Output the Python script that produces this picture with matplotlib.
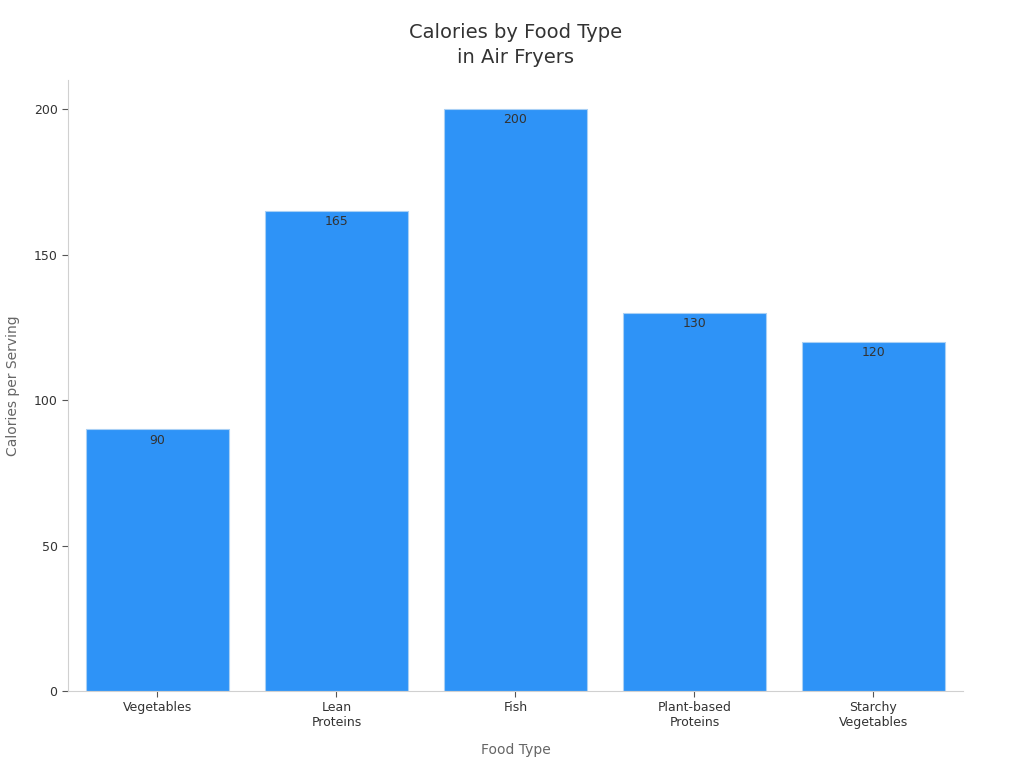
import matplotlib
matplotlib.use("Agg")
import matplotlib.pyplot as plt

categories = ["Vegetables", "Lean\nProteins", "Fish", "Plant-based\nProteins", "Starchy\nVegetables"]
calories = [90, 165, 200, 130, 120]
yticks = [0, 50, 100, 150, 200]

bar_color = "#2e93f7"
text_color = "#333333"
label_color = "#666666"
spine_color = "#d0d0d0"

fig = plt.figure(figsize=(10.24, 7.68), dpi=100)
ax = fig.add_axes([0.0664, 0.1003, 0.8740, 0.7955])

x = list(range(len(categories)))
bars = ax.bar(x, calories, width=0.8, color=bar_color, edgecolor="#a9d0f5", linewidth=0.8)

for rect, val in zip(bars, calories):
    ax.text(rect.get_x() + rect.get_width() / 2, val - 1.5, str(val),
            ha="center", va="top", fontsize=9, color=text_color)

ax.set_xlim(-0.5, 4.5)
ax.set_ylim(0, 210)
ax.set_xticks(x)
ax.set_xticklabels(categories, fontsize=9, color=text_color)
ax.set_yticks(yticks)
ax.tick_params(axis="y", labelsize=9, colors=text_color)
ax.tick_params(axis="both", color="#555555", length=4)

for side in ["top", "right"]:
    ax.spines[side].set_visible(False)
for side in ["left", "bottom"]:
    ax.spines[side].set_color(spine_color)

ax.set_xlabel("Food Type", fontsize=10, color=label_color, labelpad=10)
ax.set_ylabel("Calories per Serving", fontsize=10, color=label_color, labelpad=10)
ax.set_title("Calories by Food Type\nin Air Fryers", fontsize=14, color=text_color,
             pad=12, linespacing=1.45)

fig.savefig("out.png", dpi=100)
